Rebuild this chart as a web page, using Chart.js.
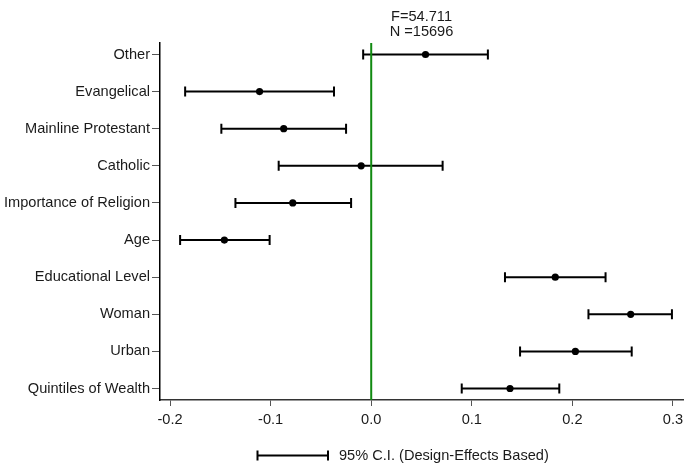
<!DOCTYPE html>
<html>
<head>
<meta charset="utf-8">
<script src="https://cdn.jsdelivr.net/npm/chart.js@4.4.1/dist/chart.umd.min.js"></script>
<style>
  html, body { margin: 0; padding: 0; background: #fff; }
  #wrap { width: 687px; height: 468px; }
</style>
</head>
<body>
<div id="wrap"><canvas id="ciChart" width="687" height="468"></canvas></div>
<script>
// ── Data ────────────────────────────────────────────────────
const categories = [
  'Other', 'Evangelical', 'Mainline Protestant', 'Catholic',
  'Importance of Religion', 'Age', 'Educational Level', 'Woman',
  'Urban', 'Quintiles of Wealth'
];
const estimates = [0.054, -0.111, -0.087, -0.010, -0.078, -0.146, 0.183, 0.258, 0.203, 0.138];
const lowerCI   = [-0.008, -0.185, -0.149, -0.092, -0.135, -0.190, 0.133, 0.216, 0.148, 0.090];
const upperCI   = [0.116, -0.037, -0.025, 0.071, -0.020, -0.101, 0.233, 0.299, 0.259, 0.187];
const xTicks    = [-0.2, -0.1, 0.0, 0.1, 0.2, 0.3];
const statLines = ['F=54.711', 'N =15696'];
const legendText = '95% C.I. (Design-Effects Based)';

const FONT = "'Liberation Sans', Arial, sans-serif";
const FONT_SIZE = 14.6;
const TEXT = '#1a1a1a';

// ── Error bars drawn from the scales ───────────────────────
const errorBars = {
  id: 'errorBars',
  beforeDatasetsDraw(chart) {
    const { ctx, scales: { x, y } } = chart;
    ctx.save();
    ctx.strokeStyle = '#000';
    ctx.lineWidth = 2;
    categories.forEach((_, i) => {
      const py = y.getPixelForValue(i);
      const x0 = x.getPixelForValue(lowerCI[i]);
      const x1 = x.getPixelForValue(upperCI[i]);
      ctx.beginPath();
      ctx.moveTo(x0, py); ctx.lineTo(x1, py);
      ctx.moveTo(x0, py - 5); ctx.lineTo(x0, py + 5);
      ctx.moveTo(x1, py - 5); ctx.lineTo(x1, py + 5);
      ctx.stroke();
    });
    ctx.restore();
  }
};

// ── Stats text + bottom legend ─────────────────────────────
const extras = {
  id: 'extras',
  afterDraw(chart) {
    const { ctx, scales: { x } } = chart;
    ctx.save();
    ctx.fillStyle = TEXT;
    ctx.font = FONT_SIZE + 'px ' + FONT;
    ctx.textAlign = 'center';
    ctx.textBaseline = 'middle';
    const cx = x.getPixelForValue(0.05);
    ctx.fillText(statLines[0], cx, 17);
    ctx.fillText(statLines[1], cx, 32);

    // legend sample
    const ly = 455.5, lx0 = 257.5, lx1 = 328;
    ctx.strokeStyle = '#000';
    ctx.lineWidth = 2;
    ctx.beginPath();
    ctx.moveTo(lx0, ly); ctx.lineTo(lx1, ly);
    ctx.moveTo(lx0, ly - 5); ctx.lineTo(lx0, ly + 5);
    ctx.moveTo(lx1, ly - 5); ctx.lineTo(lx1, ly + 5);
    ctx.stroke();
    ctx.textAlign = 'left';
    ctx.fillText(legendText, 339, ly);
    ctx.restore();
  }
};

new Chart(document.getElementById('ciChart'), {
  type: 'scatter',
  data: {
    datasets: [
      {
        label: 'zero',
        data: [{ x: 0, y: -0.31 }, { x: 0, y: 9.31 }],
        showLine: true,
        borderColor: '#118a11',
        borderWidth: 2,
        pointRadius: 0,
        order: 0
      },
      {
        label: 'estimate',
        data: estimates.map((v, i) => ({ x: v, y: i })),
        backgroundColor: '#000',
        borderColor: '#000',
        pointRadius: 3.6,
        borderWidth: 0,
        order: 1
      }
    ]
  },
  plugins: [errorBars, extras],
  options: {
    responsive: false,
    animation: false,
    layout: { padding: { top: 43, right: 1, left: 0, bottom: 0 } },
    plugins: { legend: { display: false }, tooltip: { enabled: false } },
    scales: {
      x: {
        type: 'linear',
        min: -0.21,
        max: 0.31,
        afterBuildTicks: (s) => { s.ticks = xTicks.map(v => ({ value: v })); },
        afterFit: (s) => { s.height = 68; s.paddingLeft = 0; s.paddingRight = 0; },
        grid: { drawOnChartArea: false, drawTicks: true, tickLength: 6, color: '#555' },
        border: { display: true, color: '#333', width: 1.5 },
        ticks: {
          padding: 5,
          color: TEXT,
          font: { family: FONT, size: FONT_SIZE },
          maxRotation: 0,
          callback: (v) => Number(v).toFixed(1)
        }
      },
      y: {
        type: 'linear',
        reverse: true,
        min: -0.31,
        max: 9.31,
        afterBuildTicks: (s) => { s.ticks = categories.map((_, i) => ({ value: i })); },
        afterFit: (s) => { s.width = 160; s.paddingTop = 0; s.paddingBottom = 0; },
        grid: { drawOnChartArea: false, drawTicks: true, tickLength: 8, color: '#555' },
        border: { display: true, color: '#000', width: 1.5 },
        ticks: {
          padding: 2,
          color: TEXT,
          font: { family: FONT, size: FONT_SIZE },
          callback: (v) => categories[v] ?? ''
        }
      }
    }
  }
});
</script>
</body>
</html>
